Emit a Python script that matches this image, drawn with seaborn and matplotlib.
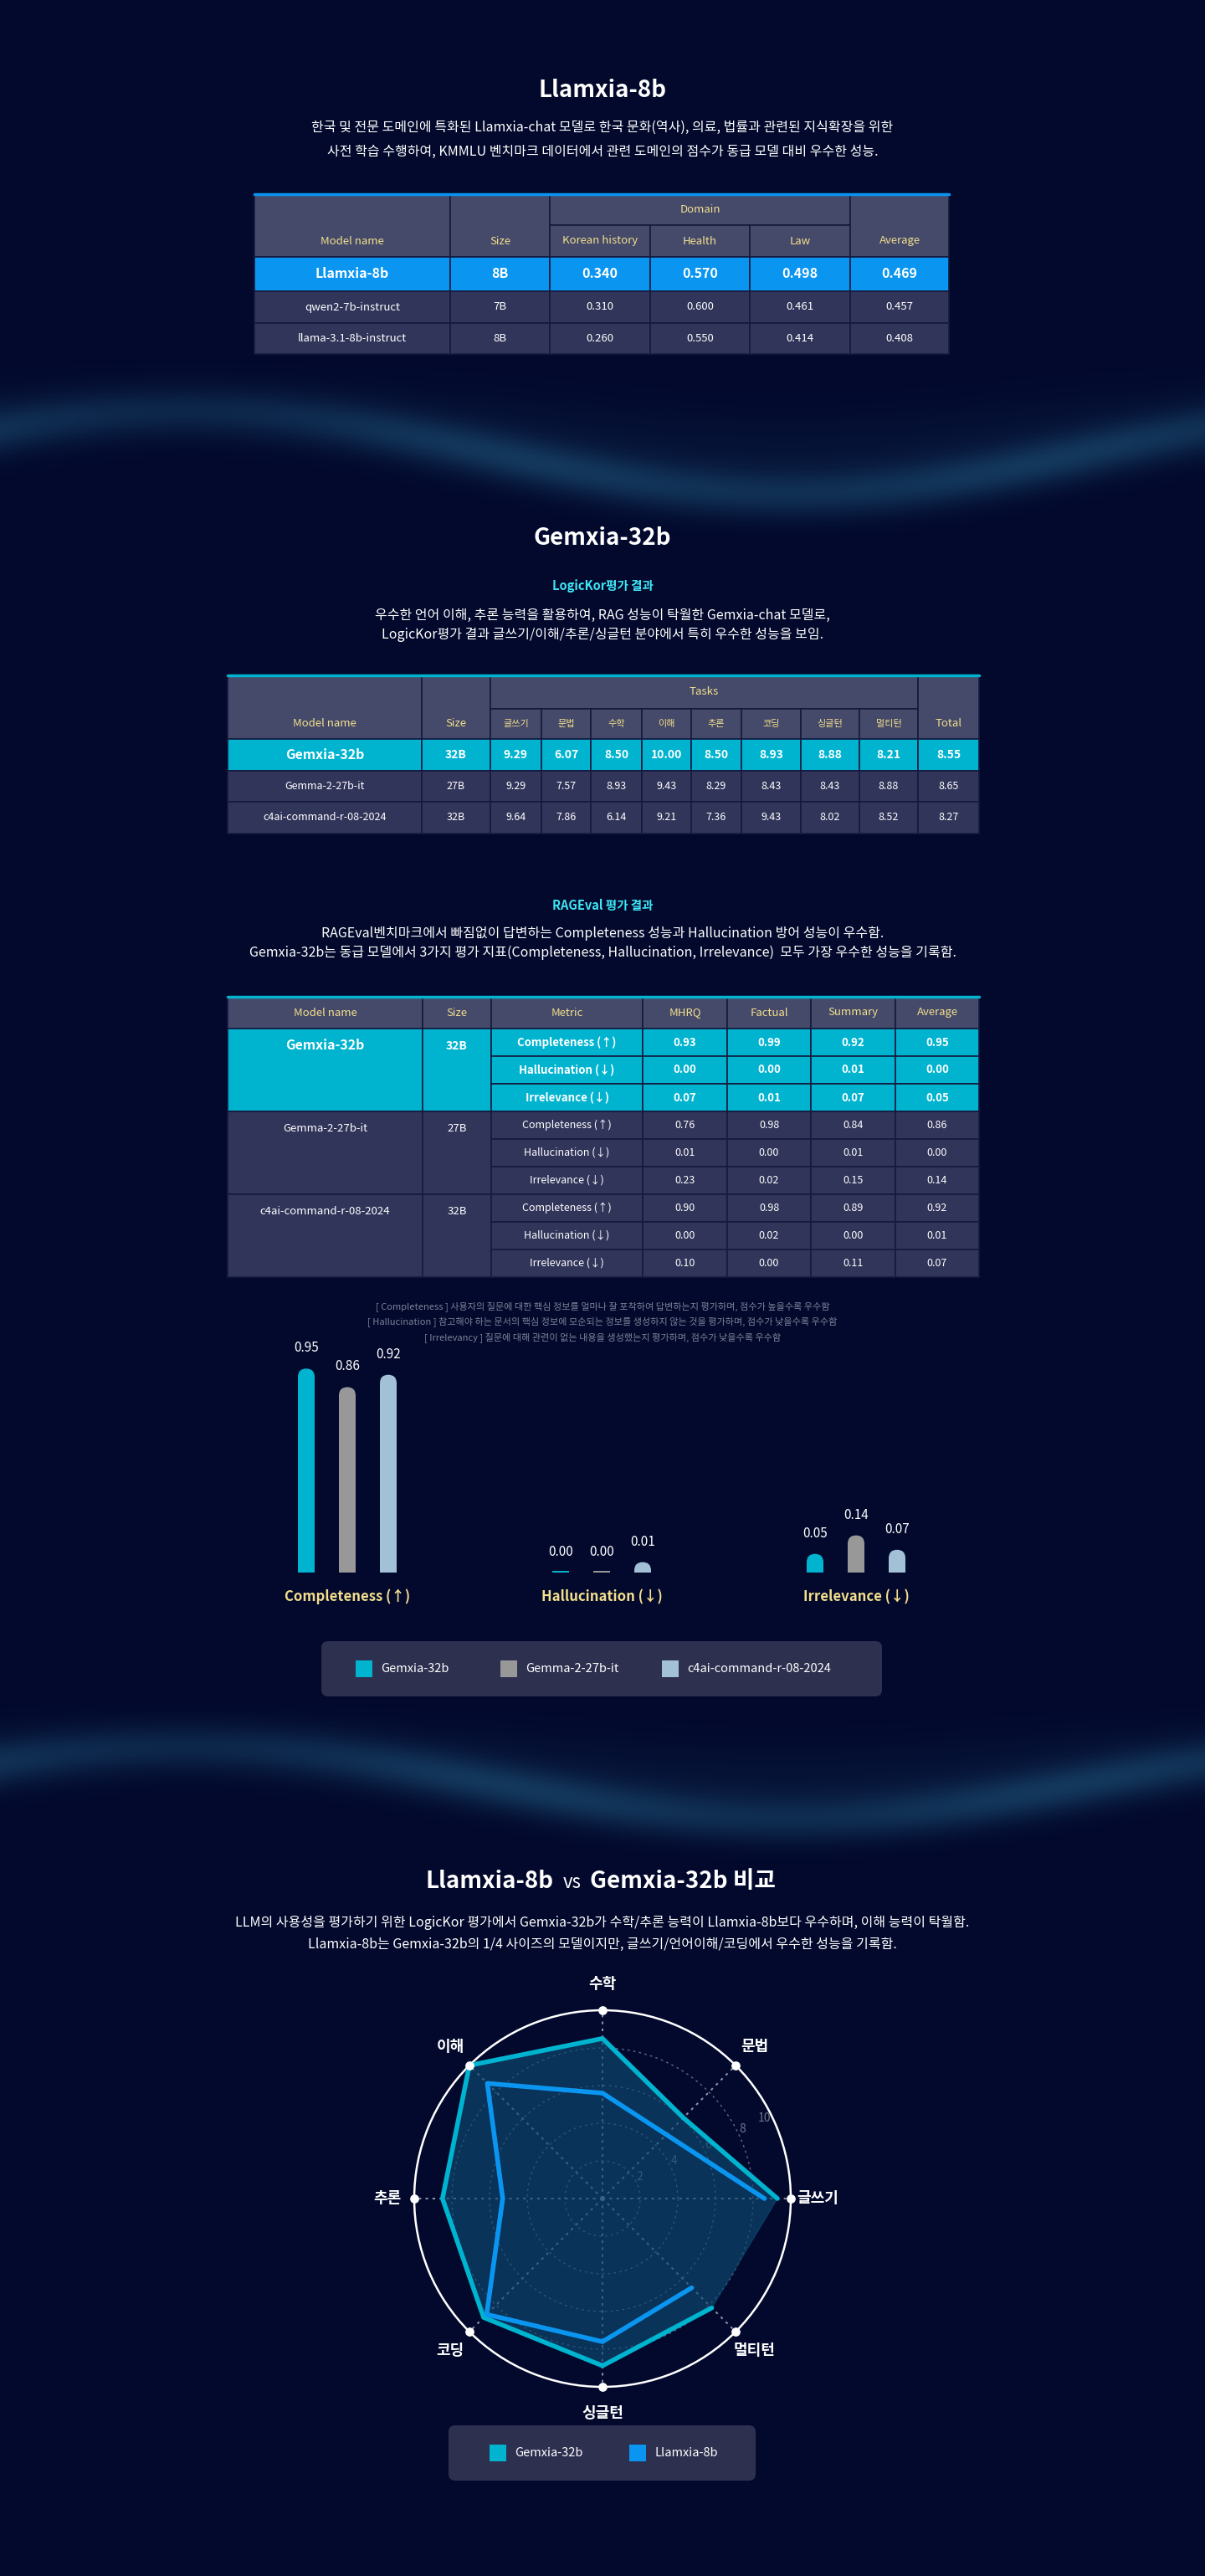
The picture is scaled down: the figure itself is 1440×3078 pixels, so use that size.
import numpy as np
import pandas as pd
import matplotlib
matplotlib.use("Agg")
import matplotlib.pyplot as plt
import seaborn as sns
from matplotlib.patches import Rectangle, FancyBboxPatch

sns.set_theme(style="dark")
plt.rcParams['font.family'] = ['Noto Sans CJK KR', 'DejaVu Sans']

# ---- data ----
t1_models = ['Llamxia-8b', 'qwen2-7b-instruct', 'llama-3.1-8b-instruct']
t1_sizes = ['8B', '7B', '8B']
t1_korean_history = ['0.340', '0.310', '0.260']
t1_health = ['0.570', '0.600', '0.550']
t1_law = ['0.498', '0.461', '0.414']
t1_average = ['0.469', '0.457', '0.408']

tasks = ['글쓰기', '문법', '수학', '이해', '추론', '코딩', '싱글턴', '멀티턴']
t2_models = ['Gemxia-32b', 'Gemma-2-27b-it', 'c4ai-command-r-08-2024']
t2_sizes = ['32B', '27B', '32B']
gemxia_tasks = [9.29, 6.07, 8.50, 10.00, 8.50, 8.93, 8.88, 8.21]
gemma_tasks = [9.29, 7.57, 8.93, 9.43, 8.29, 8.43, 8.43, 8.88]
c4ai_tasks = [9.64, 7.86, 6.14, 9.21, 7.36, 9.43, 8.02, 8.52]
t2_total = [8.55, 8.65, 8.27]

metrics = ['Completeness (↑)', 'Hallucination (↓)', 'Irrelevance (↓)']
rag_cols = ['MHRQ', 'Factual', 'Summary', 'Average']
gemxia_rag = [[0.93, 0.99, 0.92, 0.95], [0.00, 0.00, 0.01, 0.00], [0.07, 0.01, 0.07, 0.05]]
gemma_rag = [[0.76, 0.98, 0.84, 0.86], [0.01, 0.00, 0.01, 0.00], [0.23, 0.02, 0.15, 0.14]]
c4ai_rag = [[0.90, 0.98, 0.89, 0.92], [0.00, 0.02, 0.00, 0.01], [0.10, 0.00, 0.11, 0.07]]

llamxia_tasks = [8.6, 4.8, 5.6, 8.65, 5.3, 8.7, 7.6, 6.7]

BG = '#02092c'
HEAD = '#454a6a'
ROW = '#31355a'
LINE = '#151a3e'
YEL = '#f3df8c'
BLUE = '#0a96f0'
CYAN = '#00b4d0'
GRAY = '#989898'
LIGHT = '#a2c0d6'

fig = plt.figure(figsize=(14.4, 30.78), dpi=100, facecolor=BG)
ax = fig.add_axes([0, 0, 1, 1])
ax.axis('off')
ax.set_facecolor(BG)

# decorative wave glow, faded at the band edges
xx = np.linspace(0, 1440, 720)
for yc, amp, y0, y1 in [(540, 55, 400, 700), (2130, 50, 2010, 2260)]:
    yy = np.linspace(y0, y1, 300)
    X, Y = np.meshgrid(xx, yy)
    center = yc - amp * np.sin(X / 1440 * 2 * np.pi + 0.6)
    inten = np.exp(-((Y - center) / 30) ** 2) * 0.35 + np.exp(-((Y - center + 50) / 70) ** 2) * 0.08
    inten *= np.sin(np.pi * (Y - y0) / (y1 - y0)) ** 2
    img = np.zeros(X.shape + (4,))
    img[..., 0], img[..., 1], img[..., 2] = 0.18, 0.5, 0.65
    img[..., 3] = inten
    ax.imshow(img, extent=(0, 1440, y1, y0), aspect='auto', zorder=0, interpolation='bilinear')
ax.set_xlim(0, 1440)
ax.set_ylim(3078, 0)


def txt(x, y, s, size=11.5, color='white', weight='normal', ha='center'):
    ax.text(x, y, s, ha=ha, va='center', fontsize=size, color=color, fontweight=weight, zorder=5)


def cell(x0, x1, y0, y1, fc, s=None, color='white', size=10, weight='normal', ty=None):
    ax.add_patch(Rectangle((x0, y0), x1 - x0, y1 - y0, fc=fc, ec=LINE, lw=1.2, zorder=3))
    if s is not None:
        txt((x0 + x1) / 2, ty if ty is not None else (y0 + y1) / 2, s, size, color, weight)


# ---- section 1 ----
txt(720, 108, 'Llamxia-8b', 20, weight='bold')
txt(720, 152, '한국 및 전문 도메인에 특화된 Llamxia-chat 모델로 한국 문화(역사), 의료, 법률과 관련된 지식확장을 위한')
txt(720, 181, '사전 학습 수행하여, KMMLU 벤치마크 데이터에서 관련 도메인의 점수가 동급 모델 대비 우수한 성능.')

c1 = [304, 538, 657, 777, 896, 1016, 1134]
cell(c1[0], c1[1], 232, 307, HEAD, 'Model name', YEL, 9.5, 'medium', ty=288)
cell(c1[1], c1[2], 232, 307, HEAD, 'Size', YEL, 9.5, 'medium', ty=288)
cell(c1[2], c1[5], 232, 269, HEAD, 'Domain', YEL, 9.5, 'medium')
for i, h in enumerate(['Korean history', 'Health', 'Law']):
    cell(c1[2 + i], c1[3 + i], 269, 307, HEAD, h, YEL, 9.5, 'medium')
cell(c1[5], c1[6], 232, 307, HEAD, 'Average', YEL, 9.5, 'medium', ty=288)
ax.plot([c1[0], c1[-1]], [232, 232], color=BLUE, lw=2.5, zorder=4)
r1 = [307, 348, 386, 423]
for i in range(3):
    vals = [t1_models[i], t1_sizes[i], t1_korean_history[i], t1_health[i], t1_law[i], t1_average[i]]
    hl = i == 0
    for j, v in enumerate(vals):
        cell(c1[j], c1[j + 1], r1[i], r1[i + 1], BLUE if hl else ROW, v, 'white',
             11.5 if hl else 9.5, 'bold' if hl else 'normal')

# ---- section 2 ----
txt(720, 643, 'Gemxia-32b', 20, weight='bold')
txt(720, 700, 'LogicKor평가 결과', 10.5, '#3ee6f5', 'bold')
txt(720, 735, '우수한 언어 이해, 추론 능력을 활용하여, RAG 성능이 탁월한 Gemxia-chat 모델로,')
txt(720, 758, 'LogicKor평가 결과 글쓰기/이해/추론/싱글턴 분야에서 특히 우수한 성능을 보임.')

c2 = [272, 504, 586, 647, 706, 767, 826, 886, 957, 1027, 1097, 1170]
cell(c2[0], c2[1], 807, 883, HEAD, 'Model name', YEL, 9.5, 'medium', ty=865)
cell(c2[1], c2[2], 807, 883, HEAD, 'Size', YEL, 9.5, 'medium', ty=865)
cell(c2[2], c2[10], 807, 847, HEAD, 'Tasks', YEL, 9.5, 'medium')
for i, t in enumerate(tasks):
    cell(c2[2 + i], c2[3 + i], 847, 883, HEAD, t, YEL, 8)
cell(c2[10], c2[11], 807, 883, HEAD, 'Total', YEL, 9.5, 'medium', ty=865)
ax.plot([c2[0], c2[-1]], [807, 807], color=CYAN, lw=2.5, zorder=4)
r2 = [883, 921, 958, 996]
for i, sc in enumerate([gemxia_tasks, gemma_tasks, c4ai_tasks]):
    hl = i == 0
    vals = [t2_models[i], t2_sizes[i]] + [f'{v:.2f}' for v in sc] + [f'{t2_total[i]:.2f}']
    for j, v in enumerate(vals):
        cell(c2[j], c2[j + 1], r2[i], r2[i + 1], CYAN if hl else ROW, v, 'white',
             (11.5 if j == 0 else 10) if hl else 9, 'bold' if hl else 'normal')

# ---- section 3 ----
txt(720, 1082, 'RAGEval 평가 결과', 10.5, '#3ee6f5', 'bold')
txt(720, 1115, 'RAGEval벤치마크에서 빠짐없이 답변하는 Completeness 성능과 Hallucination 방어 성능이 우수함.')
txt(720, 1138, 'Gemxia-32b는 동급 모델에서 3가지 평가 지표(Completeness, Hallucination, Irrelevance)  모두 가장 우수한 성능을 기록함.')

c3 = [272, 505, 587, 768, 869, 969, 1070, 1170]
for j, h in enumerate(['Model name', 'Size', 'Metric'] + rag_cols):
    cell(c3[j], c3[j + 1], 1191, 1229, HEAD, h, YEL, 9.5, 'medium')
ax.plot([c3[0], c3[-1]], [1191, 1191], color=CYAN, lw=2.5, zorder=4)
rh = 33
for i, data in enumerate([gemxia_rag, gemma_rag, c4ai_rag]):
    hl = i == 0
    fc = CYAN if hl else ROW
    y0 = 1229 + i * 3 * rh
    wt = 'bold' if hl else 'normal'
    cell(c3[0], c3[1], y0, y0 + 3 * rh, fc, t2_models[i], 'white', 11.5 if hl else 9.5, wt, ty=y0 + rh / 2 + 4)
    cell(c3[1], c3[2], y0, y0 + 3 * rh, fc, t2_sizes[i], 'white', 10 if hl else 9.5, wt, ty=y0 + rh / 2 + 4)
    for k in range(3):
        yk = y0 + k * rh
        cell(c3[2], c3[3], yk, yk + rh, fc, metrics[k], 'white', 9.5 if hl else 9, wt)
        for j in range(4):
            cell(c3[3 + j], c3[4 + j], yk, yk + rh, fc, f'{data[k][j]:.2f}', 'white', 9.5 if hl else 9, wt)

NOTE = '#7d8299'
txt(720, 1561, '[ Completeness ] 사용자의 질문에 대한 핵심 정보를 얼마나 잘 포착하여 답변하는지 평가하며, 점수가 높을수록 우수함', 8, NOTE)
txt(720, 1579, '[ Hallucination ] 참고해야 하는 문서의 핵심 정보에 모순되는 정보를 생성하지 않는 것을 평가하며, 점수가 낮을수록 우수함', 8, NOTE)
txt(720, 1598, '[ Irrelevancy ] 질문에 대해 관련이 없는 내용을 생성했는지 평가하며, 점수가 낮을수록 우수함', 8, NOTE)

# ---- bar chart ----
bar_models = ['Gemxia-32b', 'Gemma-2-27b-it', 'c4ai-command-r-08-2024']
bar_df = pd.DataFrame({
    'metric': metrics * 3,
    'model': [m for m in bar_models for _ in range(3)],
    'value': [r[3] for r in gemxia_rag] + [r[3] for r in gemma_rag] + [r[3] for r in c4ai_rag],
})
base_y, group_dx, ax_h = 1879, 304, 270.6
left = 415 - group_dx / 2
bax = fig.add_axes([left / 1440, (3078 - base_y) / 3078, 3 * group_dx / 1440, ax_h / 3078])
bax.set_facecolor('none')
palette = {bar_models[0]: CYAN, bar_models[1]: GRAY, bar_models[2]: LIGHT}
sns.barplot(data=bar_df, x='metric', y='value', hue='model', palette=palette,
            width=3 * 49 / group_dx, ax=bax, legend=False, saturation=1)
bax.set_xlim(-0.5, 2.5)
bax.set_ylim(0, 1.1)
ypx = 1.1 / ax_h
xpx = 1 / group_dx
cap = 10 * ypx
for p in list(bax.patches):
    cx = p.get_x() + p.get_width() / 2
    h = p.get_height()
    col = p.get_facecolor()
    p.remove()
    w = 20 * xpx
    if h <= 0.001:
        bax.add_patch(Rectangle((cx - w / 2, 0), w, 2 * ypx, fc=col, ec='none'))
        top = 0
    else:
        top = h + cap
        bax.add_patch(FancyBboxPatch((cx - w / 2, -0.1), w, top + 0.1,
                                     boxstyle=f'round,pad=0,rounding_size={10 * xpx}',
                                     mutation_aspect=ypx / xpx, fc=col, ec='none'))
    bax.text(cx, top + 16 * ypx, f'{h:.2f}', ha='center', va='bottom', color='white',
             fontsize=11, fontweight='medium')
bax.set_xticks([])
bax.set_yticks([])
bax.set_xlabel('')
bax.set_ylabel('')
for s in bax.spines.values():
    s.set_visible(False)
for i, m in enumerate(metrics):
    txt(415 + i * group_dx, 1908, m, 12, YEL, 'bold')

ax.add_patch(FancyBboxPatch((384, 1961), 670, 66, boxstyle='round,pad=0,rounding_size=8',
                            fc='#2e3050', ec='none', zorder=3))
for x, m in zip([425, 598, 791], bar_models):
    ax.add_patch(Rectangle((x, 1984), 20, 20, fc=palette[m], ec='none', zorder=4))
    txt(x + 30, 1994, m, 10.5, ha='left')

# ---- section 4 ----
txt(662, 2248, 'Llamxia-8b', 20, weight='bold', ha='right')
txt(684, 2250, 'vs', 16)
txt(705, 2248, 'Gemxia-32b 비교', 20, weight='bold', ha='left')
txt(720, 2297, 'LLM의 사용성을 평가하기 위한 LogicKor 평가에서 Gemxia-32b가 수학/추론 능력이 Llamxia-8b보다 우수하며, 이해 능력이 탁월함.')
txt(720, 2323, 'Llamxia-8b는 Gemxia-32b의 1/4 사이즈의 모델이지만, 글쓰기/언어이해/코딩에서 우수한 성능을 기록함.')

R = 225
cxp, cyp = 720, 2627
pax = fig.add_axes([(cxp - R) / 1440, (3078 - cyp - R) / 3078, 2 * R / 1440, 2 * R / 3078], polar=True)
pax.set_facecolor('none')
angles = np.deg2rad(np.arange(0, 360, 45))
th = np.append(angles, angles[0])
g = np.append(gemxia_tasks, gemxia_tasks[0])
l = np.append(llamxia_tasks, llamxia_tasks[0])
pax.fill(th, g, color='#0d4a72', alpha=0.65, zorder=2)
sns.lineplot(x=th, y=g, sort=False, color=CYAN, lw=4, ax=pax, zorder=4)
sns.lineplot(x=th, y=l, sort=False, color=BLUE, lw=4, ax=pax, zorder=5)
pax.set_ylim(0, 10)
pax.set_rgrids([2, 4, 6, 8], labels=['2', '4', '6', '8'], angle=25, color='#6f7590', fontsize=10)
pax.text(np.deg2rad(26.5), 9.6, '10', color='#6f7590', fontsize=10, ha='center', va='center')
pax.yaxis.grid(True, color='#5f6788', ls=(0, (2, 3)), lw=1)
pax.set_thetagrids(np.rad2deg(angles), tasks, fontsize=13, color='white', fontweight='bold')
pax.xaxis.grid(True, color='#8a90a8', ls=(0, (1.5, 2.5)), lw=1.5)
pax.tick_params(axis='x', pad=10)
pax.spines['polar'].set_color('white')
pax.spines['polar'].set_linewidth(1.8)
pax.scatter(angles, [10] * 8, s=45, color='white', clip_on=False, zorder=6)
pax.set_xlabel('')
pax.set_ylabel('')

ax.add_patch(FancyBboxPatch((536, 2898), 367, 66, boxstyle='round,pad=0,rounding_size=8',
                            fc='#2e3050', ec='none', zorder=3))
for x, m, c in [(585, 'Gemxia-32b', CYAN), (752, 'Llamxia-8b', BLUE)]:
    ax.add_patch(Rectangle((x, 2921), 20, 20, fc=c, ec='none', zorder=4))
    txt(x + 30, 2931, m, 10.5, ha='left')

fig.savefig('out.png', dpi=100, facecolor=BG)
